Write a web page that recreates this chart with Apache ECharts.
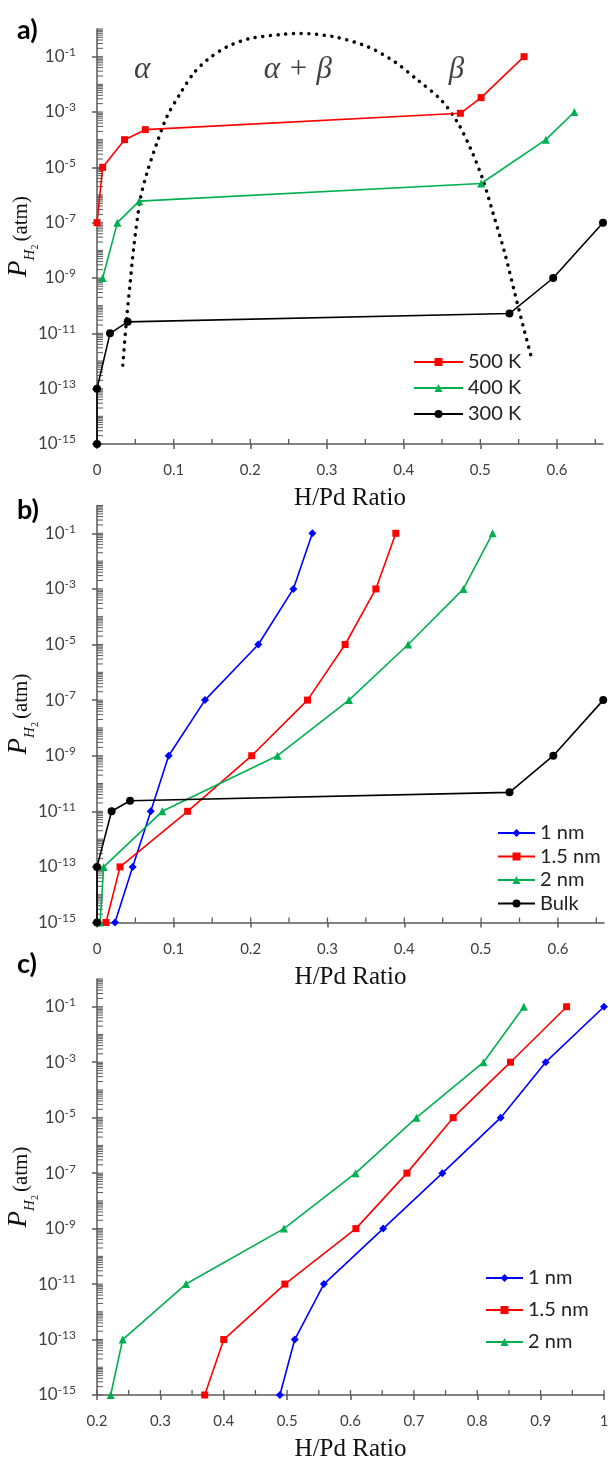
<!DOCTYPE html>
<html><head><meta charset="utf-8">
<script src="https://cdn.jsdelivr.net/npm/echarts@6/dist/echarts.min.js"></script>
<style>html,body{margin:0;padding:0;background:#fff}#c{width:610px;height:1460px}</style>
</head><body><div id="c"></div>
<script>
// ---------- DATA ----------
// Panel a: temperatures (H/Pd ratio, pressure in atm)
const a500X = [0, 0.0074, 0.036, 0.063, 0.474, 0.501, 0.557];
const a500P = [1e-7, 1e-5, 1e-4, 2.3e-4, 9e-4, 3.3e-3, 1e-1];
const a400X = [0.0074, 0.0266, 0.055, 0.501, 0.5855, 0.6226];
const a400P = [1e-9, 1e-7, 6e-7, 2.6e-6, 1e-4, 1e-3];
const a300X = [0, 0, 0.017, 0.040, 0.538, 0.595, 0.660];
const a300P = [1e-15, 1e-13, 1e-11, 2.6e-11, 5.2e-11, 1e-9, 1e-7];
// Phase boundary (dotted), H/Pd ratio and log10 pressure
const boundX = [0.0336, 0.0388, 0.0432, 0.0475, 0.0563, 0.065, 0.078, 0.0912, 0.1086, 0.126, 0.1436, 0.1698, 0.200, 0.244, 0.266, 0.309, 0.353, 0.388, 0.418, 0.449, 0.471, 0.488, 0.5035, 0.5166, 0.532, 0.545, 0.556, 0.567];
const boundLogP = [-12.15, -10.40, -9.19, -7.99, -6.18, -5.22, -4.13, -3.17, -2.33, -1.60, -1.12, -0.64, -0.34, -0.19, -0.16, -0.28, -0.64, -1.18, -1.84, -2.57, -3.41, -4.37, -5.46, -6.66, -8.11, -9.56, -10.76, -11.91];
const phaseLabels = ['α', 'α + β', 'β'];
const phaseLabelX = [0.059, 0.262, 0.469];
const phaseLabelLogP = [-1.48, -1.48, -1.48];

// Panel b: particle sizes vs bulk
const sizeP = [1e-15, 1e-13, 1e-11, 1e-9, 1e-7, 1e-5, 1e-3, 1e-1];
const b1X = [0.0234, 0.0464, 0.070, 0.0933, 0.1406, 0.210, 0.2556, 0.2804];
const b15X = [0.0117, 0.030, 0.118, 0.2014, 0.274, 0.323, 0.363, 0.389];
const b2X = [0.004, 0.0087, 0.085, 0.235, 0.328, 0.405, 0.477, 0.515];
const bBulkX = [0, 0, 0.019, 0.043, 0.537, 0.594, 0.659];
const bBulkP = [1e-15, 1e-13, 1e-11, 2.4e-11, 4.8e-11, 1e-9, 1e-7];

// Panel c: particle sizes
const c1X = [0.4886, 0.512, 0.558, 0.6516, 0.745, 0.837, 0.908, 1.0];
const c15X = [0.370, 0.400, 0.4965, 0.6085, 0.689, 0.762, 0.8525, 0.941];
const c2X = [0.2216, 0.2405, 0.3404, 0.495, 0.608, 0.704, 0.810, 0.8735];

// Tick labels
const yLabelExps = [-15, -13, -11, -9, -7, -5, -3, -1];
const xTicksAB = [0, 0.1, 0.2, 0.3, 0.4, 0.5, 0.6];
const xTicksC = [0.2, 0.3, 0.4, 0.5, 0.6, 0.7, 0.8, 0.9, 1.0];
const panelTags = ['a)', 'b)', 'c)'];

// ---------- BUILD ----------
const AX = '#595959', TXT = '#404040';
const SANS = 'Lato', SERIF = 'Liberation Serif';
const pairs = (xs, ps) => xs.map((x, i) => [x, Math.log10(ps[i])]);

const yMinor = [0];
for (let d = -15; d < 0; d++) { for (let k = 1; k <= 9; k++) yMinor.push(d + Math.log10(k)); }
const xMinorAB = []; for (let i = 0; i <= 13; i++) xMinorAB.push(+(i * 0.05).toFixed(2));
const xMinorC = []; for (let i = 4; i <= 20; i++) xMinorC.push(+(i * 0.05).toFixed(2));

const grids = [
  {left: 97, top: 29, width: 506, height: 415, outerBoundsMode: 'none', containLabel: false},
  {left: 97, top: 505.5, width: 507, height: 417, outerBoundsMode: 'none', containLabel: false},
  {left: 97, top: 979, width: 507, height: 416, outerBoundsMode: 'none', containLabel: false}
];
const xRanges = [[0, 0.66], [0, 0.66], [0.2, 1.0]];
const xMaj = [xTicksAB, xTicksAB, xTicksC];
const xMin = [xMinorAB, xMinorAB, xMinorC];

const lineAx = {lineStyle: {color: AX, width: 1.5}, onZero: false};
const xAxes = [], yAxes = [];
grids.forEach((g, i) => {
  xAxes.push({
    gridIndex: i, type: 'value', position: 'bottom', min: xRanges[i][0], max: xRanges[i][1],
    axisLine: lineAx,
    axisTick: {customValues: xMaj[i], length: 5, lineStyle: {color: AX, width: 1.5}},
    axisLabel: {customValues: xMaj[i], margin: 19, fontSize: 15, fontFamily: SANS, color: TXT,
      formatter: v => String(+v.toFixed(1))},
    splitLine: {show: false},
    name: 'H/Pd Ratio', nameLocation: 'middle', nameGap: 42, nameMoveOverlap: false,
    nameTextStyle: {fontFamily: SERIF, fontSize: 25, color: '#111'}
  });
  yAxes.push({
    gridIndex: i, type: 'value', position: 'left', min: -15, max: 0,
    axisLine: lineAx,
    axisTick: {customValues: yLabelExps, length: 5, lineStyle: {color: AX, width: 1.5}},
    axisLabel: {customValues: yLabelExps, margin: 21,
      formatter: v => '{b|10}{s|' + v + '}',
      rich: {b: {fontSize: 17, fontFamily: SANS, color: TXT, lineHeight: 21},
             s: {fontSize: 12, fontFamily: SANS, color: TXT, verticalAlign: 'top', lineHeight: 12}}},
    splitLine: {show: false},
    name: '{p|P}{h|H}{t|2}{a|(atm)}', nameLocation: 'middle', nameRotate: 90, nameGap: 57,
    nameMoveOverlap: false,
    nameTextStyle: {rich: {
      p: {fontFamily: SERIF, fontStyle: 'italic', fontSize: 27, lineHeight: 27, verticalAlign: 'bottom', padding: [0, 0, 8, 0], color: '#111'},
      h: {fontFamily: SERIF, fontStyle: 'italic', fontSize: 15, lineHeight: 15, verticalAlign: 'bottom', padding: [0, 0, 2, 0], color: '#111'},
      t: {fontFamily: SERIF, fontSize: 10, lineHeight: 10, verticalAlign: 'bottom', padding: [0, 3, 0, 0], color: '#111'},
      a: {fontFamily: SERIF, fontSize: 21, lineHeight: 21, verticalAlign: 'bottom', padding: [0, 0, 8, 0], color: '#111'}
    }}
  });
});

// inside ticks (log minor ticks on y, 0.05 ticks on x), placed through the axes' own scales
function tickSeries(gi) {
  const xmin = xRanges[gi][0];
  const data = yMinor.map(v => [xmin, v, 0]).concat(xMin[gi].map(v => [v, -15, 1]));
  return {type: 'custom', coordinateSystem: 'cartesian2d', xAxisIndex: gi, yAxisIndex: gi,
    data, silent: true, clip: false, z: 1,
    renderItem: (params, api) => {
      const p = api.coord([api.value(0), api.value(1)]);
      const k = api.value(2);
      const shape = k === 0 ? {x1: p[0], y1: p[1], x2: p[0] + 6, y2: p[1]}
                            : {x1: p[0], y1: p[1], x2: p[0], y2: p[1] - 5};
      return {type: 'line', shape, style: {stroke: AX, lineWidth: k === 0 ? 1 : 1.3}};
    }};
}

function ser(name, color, symbol, size, data, gi) {
  return {type: 'line', name, xAxisIndex: gi, yAxisIndex: gi, data,
    symbol, symbolSize: size, showSymbol: true,
    lineStyle: {color, width: 1.6}, itemStyle: {color}, z: 3};
}
const RED = '#ff0000', GRN = '#00b050', BLK = '#000000', BLU = '#0000ff';

const series = [
  tickSeries(0), tickSeries(1), tickSeries(2),
  {type: 'line', name: 'boundary', xAxisIndex: 0, yAxisIndex: 0,
    data: boundX.map((x, i) => [x, boundLogP[i]]), smooth: 0.3, symbol: 'none',
    lineStyle: {color: '#000', width: 3.5, type: [0.1, 7.6], cap: 'round'}, z: 2, silent: true},
  {type: 'scatter', name: 'phases', xAxisIndex: 0, yAxisIndex: 0, symbolSize: 0, silent: true,
    data: phaseLabels.map((t, i) => ({name: t, value: [phaseLabelX[i], phaseLabelLogP[i]]})),
    label: {show: true, position: 'inside', formatter: '{b}', fontFamily: SERIF, fontStyle: 'italic',
      fontSize: 31, color: '#111'}},
  ser('500 K', RED, 'rect', 7, pairs(a500X, a500P), 0),
  ser('400 K', GRN, 'triangle', 8, pairs(a400X, a400P), 0),
  ser('300 K', BLK, 'circle', 8, pairs(a300X, a300P), 0),
  ser('1 nm', BLU, 'diamond', 8, pairs(b1X, sizeP), 1),
  ser('1.5 nm', RED, 'rect', 7, pairs(b15X, sizeP), 1),
  ser('2 nm', GRN, 'triangle', 8, pairs(b2X, sizeP), 1),
  ser('Bulk', BLK, 'circle', 8, pairs(bBulkX, bBulkP), 1),
  ser('1 nm', BLU, 'diamond', 8, pairs(c1X, sizeP), 2),
  ser('1.5 nm', RED, 'rect', 7, pairs(c15X, sizeP), 2),
  ser('2 nm', GRN, 'triangle', 8, pairs(c2X, sizeP), 2)
];

const legTxt = {fontSize: 20, fontFamily: SANS, color: '#222'};
const legend = [
  {orient: 'vertical', left: 408, top: 347, itemWidth: 49, itemHeight: 10, itemGap: 6,
    data: ['500 K', '400 K', '300 K'], textStyle: legTxt, selectedMode: false},
  {orient: 'vertical', left: 492, top: 818, itemWidth: 37, itemHeight: 10, itemGap: 3.5,
    data: ['1 nm', '1.5 nm', '2 nm', 'Bulk'], textStyle: legTxt, selectedMode: false},
  {orient: 'vertical', left: 480, top: 1263, itemWidth: 37, itemHeight: 10, itemGap: 12,
    data: ['1 nm', '1.5 nm', '2 nm'], textStyle: legTxt, selectedMode: false}
];

const tagTop = [12, 492, 946];
const title = panelTags.map((t, i) => ({text: t, left: 12, top: tagTop[i],
  textStyle: {fontFamily: SANS, fontWeight: 'bold', fontSize: 27, color: '#000'}}));

const chart = echarts.init(document.getElementById('c'), null, {renderer: 'canvas'});
chart.setOption({animation: false, backgroundColor: '#fff', title, legend, grid: grids,
  xAxis: xAxes, yAxis: yAxes, series});
</script></body></html>
